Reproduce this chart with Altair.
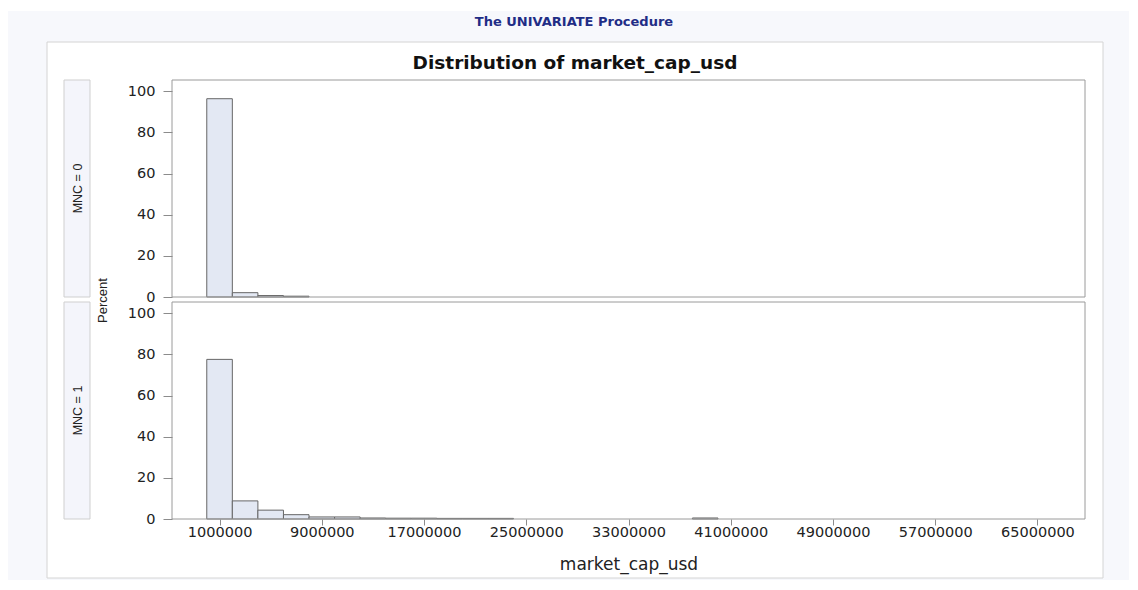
import altair as alt
import pandas as pd

# ---- data (bin midpoints in USD, percent of firms) ----
mid_mnc0 = [1000000, 3000000, 5000000, 7000000]
pct_mnc0 = [96.4, 2.1, 0.7, 0.4]

mid_mnc1 = [1000000, 3000000, 5000000, 7000000, 9000000, 11000000, 13000000,
            15000000, 17000000, 19000000, 21000000, 23000000, 39000000]
pct_mnc1 = [77.6, 8.8, 4.3, 2.1, 1.0, 1.0, 0.5, 0.4, 0.4, 0.3, 0.3, 0.3, 0.5]

x_ticks = [1000000, 9000000, 17000000, 25000000, 33000000,
           41000000, 49000000, 57000000, 65000000]
y_ticks = [0, 20, 40, 60, 80, 100]
half_bin = 1000000

W, H = 913, 217
FONT = "DejaVu Sans"
TXT = "#222222"
GRID = "#8c8c8c"

xscale = alt.Scale(domain=[-2330000, 68330000], nice=False, zero=False)
yscale = alt.Scale(domain=[0, 105.5], nice=False)

yaxis = alt.Axis(values=y_ticks, title=None, tickSize=9, labelPadding=8,
                 domain=False, grid=False, tickColor=GRID, labelColor=TXT,
                 labelFont=FONT, labelFontSize=14.5, zindex=1)
xaxis = alt.Axis(values=x_ticks, format="d", title="market_cap_usd",
                 tickSize=6, labelPadding=0, domain=False, grid=False,
                 tickColor=GRID, labelColor=TXT, labelFont=FONT,
                 labelFontSize=14.5, labelFlush=False, labelOverlap=False,
                 titleFont=FONT, titleFontSize=17, titleFontWeight="normal",
                 titleColor=TXT, titlePadding=18, zindex=1)

one = pd.DataFrame({"k": [0]})


def bars(mids, pcts, show_x):
    df = pd.DataFrame({"mid": mids, "pct": pcts})
    return alt.Chart(df).transform_calculate(
        lo=f"datum.mid - {half_bin}", hi=f"datum.mid + {half_bin}"
    ).mark_bar(fill="#e3e8f3", stroke="#666666", strokeWidth=1,
               orient="vertical").encode(
        x=alt.X("lo:Q", scale=xscale, axis=xaxis if show_x else None),
        x2="hi:Q",
        y=alt.Y("pct:Q", scale=yscale, axis=yaxis),
        y2=alt.datum(0),
    )


def rect(x, x2, y, y2, **kw):
    return alt.Chart(one).mark_rect(**kw).encode(
        x=alt.value(x), x2=alt.value(x2), y=alt.value(y), y2=alt.value(y2))


def text(s, x, y, **kw):
    return alt.Chart(one).mark_text(text=s, **kw).encode(
        x=alt.value(x), y=alt.value(y))


def header(label):
    return (rect(-108, -82, 0, H, fill="#f4f5fb", stroke="#cfcfcf", strokeWidth=1)
            + text(label, -94, H / 2, angle=270, align="center", baseline="middle",
                   font="Liberation Sans", fontSize=12.5, color=TXT))


def frame():
    return rect(0, W, 0, H, fill="transparent", stroke="#9a9a9a", strokeWidth=1)


decor = (
    rect(-164, 957, -72, -69, fill="white")
    + rect(-164, 957, -69, 500, fill="#f7f8fc")
    + rect(-125, 931, -38, 498, fill="white", stroke="#d4d4d4", strokeWidth=1)
    + text("The UNIVARIATE Procedure", 402, -54, align="center", baseline="alphabetic",
           font=FONT, fontSize=13, fontWeight="bold", color="#1f2d86")
    + text("Distribution of market_cap_usd", 403, -11, align="center",
           baseline="alphabetic", font=FONT, fontSize=18.5, fontWeight="bold",
           color="#111111")
    + text("Percent", -69.5, 220.5, angle=270, align="center", baseline="middle",
           font="Liberation Sans", fontSize=13, color=TXT)
)

top = alt.layer(decor, header("MNC = 0"), bars(mid_mnc0, pct_mnc0, False),
                frame()).properties(width=W, height=H)
bottom = alt.layer(header("MNC = 1"), bars(mid_mnc1, pct_mnc1, True),
                   frame()).properties(width=W, height=H)

chart = alt.vconcat(top, bottom, spacing=5, bounds="flush").properties(
    padding=0, background="white"
).configure_view(stroke=None)

chart.save("out.html", embed_options={"renderer": "svg", "actions": False})
